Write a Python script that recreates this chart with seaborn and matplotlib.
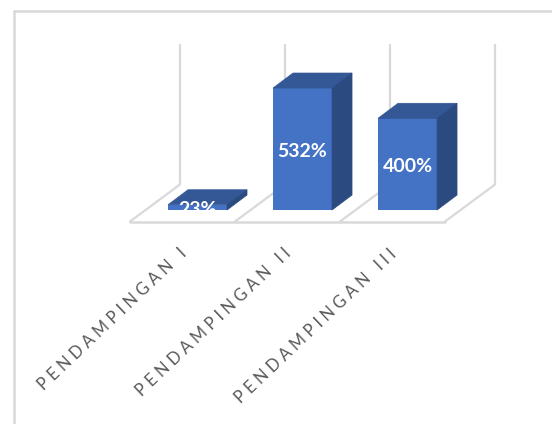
import matplotlib
matplotlib.use('Agg')
import matplotlib.pyplot as plt
import pandas as pd
import seaborn as sns
from matplotlib.lines import Line2D
from matplotlib.patches import Polygon
from matplotlib.transforms import ScaledTranslation

# data
kategori = ['PENDAMPINGAN I', 'PENDAMPINGAN II', 'PENDAMPINGAN III']
nilai = [23, 532, 400]
label_nilai = ['23%', '532%', '400%']

W, H = 552, 424
DX, DY = 20 / 105, 15 / 0.2293  # bar depth in data units
FX, FY = 50 / 105, 37 / 0.2293  # floor depth in data units
GRID = '#d9d9d9'

sns.set_theme(style='white')
plt.rcParams['font.family'] = ['Lato', 'DejaVu Sans']

fig = plt.figure(figsize=(W / 100, H / 100), dpi=100)
# chart frame, only top and left are in the crop
fig.add_artist(Line2D([14 / W, 14 / W], [0, (H - 11) / H], color=GRID, lw=1.8))
fig.add_artist(Line2D([14 / W, 1], [(H - 11) / H, (H - 11) / H], color=GRID, lw=1.8))

ax = fig.add_axes([130 / W, (H - 221.5) / H, (495 - 130) / W, (221.5 - 45) / H])
df = pd.DataFrame({'kategori': kategori, 'nilai': nilai})
sns.barplot(data=df, x='kategori', y='nilai', color='#4472C4', saturation=1, width=59 / 105, ax=ax, zorder=3,
            linewidth=0)
ax.set_xlim(-0.643, 2.833)
ax.set_ylim(-50, 719.6)
ax.set_xlabel('')
ax.set_ylabel('')
ax.set_yticks([])
sns.despine(ax=ax, left=True, bottom=True)

# floor and back walls
y0, y1 = ax.get_ylim()
for i in range(4):
    x = -0.643 + i
    ax.plot([x, x + FX], [y0, y0 + FY], color=GRID, lw=1.6, zorder=1, clip_on=False)
    ax.plot([x + FX, x + FX], [y0 + FY, y1], color=GRID, lw=1.6, zorder=1, clip_on=False)
ax.plot([-0.643, 2.357], [y0, y0], color=GRID, lw=1.8, zorder=1, clip_on=False)

# 3d faces from the bars
for bar in ax.patches:
    x, w, h = bar.get_x(), bar.get_width(), bar.get_height()
    top = [(x, h), (x + w, h), (x + w + DX, h + DY), (x + DX, h + DY)]
    side = [(x + w, 0), (x + w + DX, DY), (x + w + DX, h + DY), (x + w, h)]
    ax.add_patch(Polygon(top, closed=True, facecolor='#345796', edgecolor='#345796', lw=0.5, zorder=3))
    ax.add_patch(Polygon(side, closed=True, facecolor='#2b4a80', edgecolor='#2b4a80', lw=0.5, zorder=3))

ax.bar_label(ax.containers[0], labels=label_nilai, label_type='center', color='white',
             fontsize=14, fontweight='bold', zorder=5, padding=-1.5)

# letter spaced category labels
ax.set_xticks(range(3))
ax.set_xticklabels(['\u2009\u2009'.join(k) for k in kategori], rotation=43.5, ha='right', va='center',
                   rotation_mode='anchor', fontsize=11.9, color='#595959')
ax.tick_params(axis='x', length=0, pad=21.5)
geser = ScaledTranslation(-13.5 / 100, 0, fig.dpi_scale_trans)
for t in ax.get_xticklabels():
    t.set_transform(t.get_transform() + geser)

fig.savefig('out.png', dpi=100)
